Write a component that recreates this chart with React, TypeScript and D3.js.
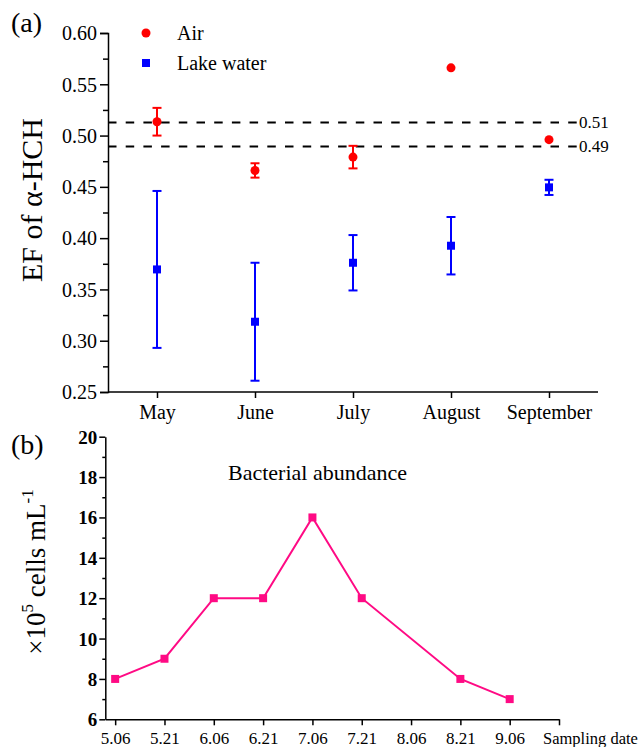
import React, { useEffect, useRef } from 'react';
import * as d3 from 'd3';

// panel (a): EF of alpha-HCH by month
const months = ['May', 'June', 'July', 'August', 'September'];
const airEF = [0.5135, 0.466, 0.479, 0.566, 0.496];
const airErr = [0.0135, 0.007, 0.011, 0, 0];
const waterEF = [0.3695, 0.3185, 0.376, 0.3926, 0.4495];
const waterErr = [0.0765, 0.0575, 0.027, 0.028, 0.0074];
const refLines = [0.5128, 0.4893];
const refLabels = ['0.51', '0.49'];

// panel (b): bacterial abundance
const dates = ['5.06', '5.21', '6.06', '6.21', '7.06', '7.21', '8.06', '8.21', '9.06'];
const sampleIdx = [0, 1, 2, 3, 4, 5, 7, 8];
const abundance = [8, 9, 12, 12, 16, 12, 8, 7];

const FONT = '"Liberation Serif", "Times New Roman", serif';
const RED = '#ff0000';
const BLUE = '#0000ff';
const PINK = '#ff0a84';

export default function App() {
    const ref = useRef<SVGSVGElement>(null);

    useEffect(() => {
        const svg = d3.select(ref.current);
        svg.selectAll('*').remove();
        svg.attr('font-family', FONT);

        // ---------- panel (a) ----------
        const x = d3.scalePoint<string>().domain(months).range([108, 598]).padding(0.5);
        const y = d3.scaleLinear().domain([0.25, 0.6]).range([392, 33]);

        const a = svg.append('g');

        // dashed reference lines
        refLines.forEach((v, i) => {
            a.append('line')
                .attr('x1', 108).attr('x2', 577)
                .attr('y1', y(v)).attr('y2', y(v))
                .attr('stroke', '#000')
                .attr('stroke-width', 2)
                .attr('stroke-dasharray', '8.5,9.2');
            a.append('text')
                .attr('x', 579).attr('y', y(v) + 5.5)
                .attr('font-size', 17)
                .text(refLabels[i]);
        });

        // y axis
        const yMinor = a.append('g').attr('transform', 'translate(108,0)')
            .call(d3.axisLeft(y).tickValues(d3.range(0.275, 0.6, 0.05)).tickSize(5).tickFormat(() => ''));
        yMinor.select('.domain').remove();
        const yAx = a.append('g').attr('transform', 'translate(108,0)')
            .call(d3.axisLeft(y).tickValues(d3.range(0.25, 0.601, 0.05)).tickSize(8).tickPadding(3)
                .tickFormat(d3.format('.2f')));
        yAx.selectAll('text').attr('font-size', 20).attr('font-family', FONT).attr('fill', '#000').attr('dy', '0.34em');

        // x axis
        const xAx = a.append('g').attr('transform', 'translate(0,392)')
            .call(d3.axisBottom(x).tickSizeOuter(0).tickSize(6));
        xAx.selectAll('text').attr('font-size', 20).attr('font-family', FONT).attr('fill', '#000')
            .attr('y', 27).attr('dy', 0);
        xAx.select('.domain').attr('d', 'M108,0H598');

        [yMinor, yAx, xAx].forEach(g => {
            g.selectAll('line').attr('stroke', '#000').attr('stroke-width', 1.5);
            g.selectAll('.domain').attr('stroke', '#000').attr('stroke-width', 1.5);
        });

        // error bars
        const errBars = (vals: number[], errs: number[], color: string) => {
            vals.forEach((v, i) => {
                if (!errs[i]) return;
                const cx = x(months[i]) as number;
                const y1 = y(v + errs[i]);
                const y2 = y(v - errs[i]);
                a.append('line').attr('x1', cx).attr('x2', cx).attr('y1', y1).attr('y2', y2)
                    .attr('stroke', color).attr('stroke-width', 2);
                [y1, y2].forEach(yy => a.append('line')
                    .attr('x1', cx - 4.5).attr('x2', cx + 4.5).attr('y1', yy).attr('y2', yy)
                    .attr('stroke', color).attr('stroke-width', 2));
            });
        };
        errBars(waterEF, waterErr, BLUE);
        errBars(airEF, airErr, RED);

        a.selectAll('.sq').data(waterEF).enter().append('rect')
            .attr('x', (d, i) => (x(months[i]) as number) - 4)
            .attr('y', d => y(d) - 4)
            .attr('width', 8).attr('height', 8)
            .attr('fill', BLUE);
        a.selectAll('.ci').data(airEF).enter().append('circle')
            .attr('cx', (d, i) => x(months[i]) as number)
            .attr('cy', d => y(d))
            .attr('r', 4.5)
            .attr('fill', RED);

        // legend
        a.append('circle').attr('cx', 146).attr('cy', 33).attr('r', 4.5).attr('fill', RED);
        a.append('text').attr('x', 177).attr('y', 40).attr('font-size', 20).text('Air');
        a.append('rect').attr('x', 142).attr('y', 59).attr('width', 8).attr('height', 8).attr('fill', BLUE);
        a.append('text').attr('x', 177).attr('y', 70).attr('font-size', 20).text('Lake water');

        a.append('text').attr('x', 11).attr('y', 32).attr('font-size', 28).text('(a)');
        a.append('text')
            .attr('transform', 'translate(42,200) rotate(-90)')
            .attr('text-anchor', 'middle')
            .attr('font-size', 30)
            .text('EF of α-HCH');

        // ---------- panel (b) ----------
        const xb = d3.scaleLinear().domain([-0.2, 9]).range([105.3, 559]);
        const yb = d3.scaleLinear().domain([6, 20]).range([719.3, 436.7]);
        const b = svg.append('g');

        const ybMinor = b.append('g').attr('transform', 'translate(105.3,0)')
            .call(d3.axisLeft(yb).tickValues(d3.range(7, 20, 2)).tickSize(3).tickFormat(() => ''));
        ybMinor.select('.domain').remove();
        const ybAx = b.append('g').attr('transform', 'translate(105.3,0)')
            .call(d3.axisLeft(yb).tickValues(d3.range(6, 21, 2)).tickSize(6).tickPadding(2).tickSizeOuter(0));
        ybAx.selectAll('text').attr('font-size', 19).attr('font-weight', 'bold')
            .attr('font-family', FONT).attr('fill', '#000').attr('dy', '0.34em');

        const xbAx = b.append('g').attr('transform', 'translate(0,719.3)')
            .call(d3.axisBottom(xb).tickValues(d3.range(0, 10)).tickSize(6).tickSizeOuter(0)
                .tickFormat(d => dates[d as number] ?? ''));
        xbAx.selectAll('text').attr('font-size', 17).attr('font-family', FONT).attr('fill', '#000')
            .attr('y', 24.5).attr('dy', 0);

        [ybMinor, ybAx, xbAx].forEach(g => {
            g.selectAll('line').attr('stroke', '#000').attr('stroke-width', 1.5);
            g.selectAll('.domain').attr('stroke', '#000').attr('stroke-width', 1.5);
        });

        b.append('text').attr('x', 543).attr('y', 743.8).attr('font-size', 16.5).text('Sampling date');

        const line = d3.line<number>()
            .x((d, i) => xb(sampleIdx[i]))
            .y(d => yb(d));
        b.append('path').datum(abundance)
            .attr('d', line)
            .attr('fill', 'none')
            .attr('stroke', PINK)
            .attr('stroke-width', 2);
        b.selectAll('.pt').data(abundance).enter().append('rect')
            .attr('x', (d, i) => xb(sampleIdx[i]) - 4)
            .attr('y', d => yb(d) - 4)
            .attr('width', 8).attr('height', 8)
            .attr('fill', PINK);

        b.append('text').attr('x', 228).attr('y', 480).attr('font-size', 22).text('Bacterial abundance');
        b.append('text').attr('x', 11).attr('y', 454).attr('font-size', 28).text('(b)');

        const yt = b.append('text')
            .attr('transform', 'translate(45,572) rotate(-90)')
            .attr('text-anchor', 'middle')
            .attr('font-size', 27);
        yt.append('tspan').text('×10');
        yt.append('tspan').attr('font-size', 17).attr('dy', -12).text('5');
        yt.append('tspan').attr('dy', 12).text(' cells mL');
        yt.append('tspan').attr('font-size', 17).attr('dy', -12).text('-1');
    }, []);

    return (
        <svg ref={ref} width={640} height={747}
            style={{ position: 'absolute', left: 0, top: 0, background: '#fff' }} />
    );
}
